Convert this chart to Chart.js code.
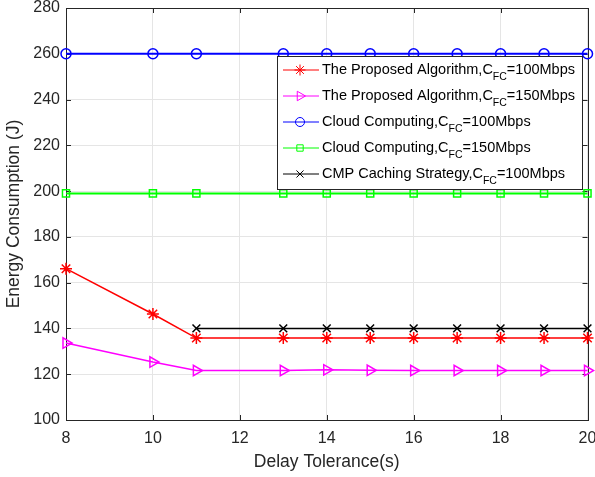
<!DOCTYPE html>
<html>
<head>
<meta charset="utf-8">
<script src="https://cdn.jsdelivr.net/npm/chart.js@4/dist/chart.umd.min.js"></script>
<style>
  html, body { margin: 0; padding: 0; background: #fff; }
  canvas { display: block; }
</style>
</head>
<body>
<canvas id="chart" width="595" height="477"></canvas>
<script>
'use strict'
// delay tolerance (s)
let delays = [8, 10, 11, 13, 14, 15, 16, 17, 18, 19, 20],
    cmpDelays = [11, 13, 14, 15, 16, 17, 18, 19, 20],
    proposed100 = [166.1, 146.3, 135.8, 135.8, 135.8, 135.8, 135.8, 135.8, 135.8, 135.8, 135.8],
    proposed150 = [133.6, 125.3, 121.6, 121.6, 121.9, 121.7, 121.6, 121.6, 121.6, 121.6, 121.6],
    cloud100 = [260, 260, 260, 260, 260, 260, 260, 260, 260, 260, 260],
    cloud150 = [199, 199, 199, 199, 199, 199, 199, 199, 199, 199, 199],
    cmp100 = [140, 140, 140, 140, 140, 140, 140, 140, 140],
    xTicks = [8, 10, 12, 14, 16, 18, 20],
    yTicks = [100, 120, 140, 160, 180, 200, 220, 240, 260, 280],
    // legend text: [before subscript, subscript, after subscript]
    legendNames = [
        ['The Proposed Algorithm,C', 'FC', '=100Mbps'],
        ['The Proposed Algorithm,C', 'FC', '=150Mbps'],
        ['Cloud Computing,C', 'FC', '=100Mbps'],
        ['Cloud Computing,C', 'FC', '=150Mbps'],
        ['CMP Caching Strategy,C', 'FC', '=100Mbps']]

let axisColor = '#262626'
let font = '"Liberation Sans", Arial, sans-serif'

let pts = function (xs, ys) {
    return xs.map((x, i) => ({x: x, y: ys[i]}))
}

let series = [
    {data: pts(delays, proposed100), color: '#ff0000', style: 'star', rot: 0, r: 6, w: 1.5},
    {data: pts(delays, proposed150), color: '#ff00ff', style: 'triangle', rot: 90, r: 6, w: 1.5},
    {data: pts(delays, cloud100), color: '#0000ff', style: 'circle', rot: 0, r: 5, w: 2},
    {data: pts(delays, cloud150), color: '#00ff00', style: 'rect', rot: 0, r: 5, w: 2},
    {data: pts(cmpDelays, cmp100), color: '#000000', style: 'crossRot', rot: 0, r: 5.5, w: 1.5}
]

// frame with inward tick marks, like matlab
let framePlugin = {
    id: 'frame',
    beforeDatasetsDraw(chart) {
        let ctx = chart.ctx, a = chart.chartArea
        let xs = chart.scales.x, ys = chart.scales.y
        ctx.save()
        ctx.strokeStyle = axisColor
        ctx.lineWidth = 1
        ctx.beginPath()
        xTicks.forEach(v => {
            let px = Math.round(xs.getPixelForValue(v)) + 0.5
            ctx.moveTo(px, a.bottom); ctx.lineTo(px, a.bottom - 5)
            ctx.moveTo(px, a.top); ctx.lineTo(px, a.top + 5)
        })
        yTicks.forEach(v => {
            let py = Math.round(ys.getPixelForValue(v)) + 0.5
            ctx.moveTo(a.left, py); ctx.lineTo(a.left + 5, py)
            ctx.moveTo(a.right, py); ctx.lineTo(a.right - 5, py)
        })
        ctx.stroke()
        ctx.strokeRect(Math.round(a.left) + 0.5, Math.round(a.top) + 0.5,
            Math.round(a.right - a.left), Math.round(a.bottom - a.top))
        ctx.restore()
    }
}

// legend with subscripts
let legendPlugin = {
    id: 'subLegend',
    afterDraw(chart) {
        let ctx = chart.ctx
        let bx = 277, by = 56, bw = 305, bh = 133
        ctx.save()
        ctx.fillStyle = '#fff'
        ctx.fillRect(bx, by, bw, bh)
        ctx.strokeStyle = axisColor
        ctx.lineWidth = 1
        ctx.strokeRect(bx + 0.5, by + 0.5, bw, bh)
        legendNames.forEach((name, i) => {
            let s = series[i]
            let cy = 70 + i * 26
            ctx.strokeStyle = s.color
            ctx.lineWidth = 1
            ctx.beginPath()
            ctx.moveTo(283, cy); ctx.lineTo(319, cy)
            ctx.stroke()
            ctx.fillStyle = 'rgba(0,0,0,0)'
            Chart.helpers.drawPoint(ctx, {pointStyle: s.style, rotation: s.rot, radius: s.r - 0.5, borderWidth: 1}, 300, cy)
            ctx.fillStyle = '#000'
            ctx.textBaseline = 'middle'
            ctx.font = '14.5px ' + font
            let x = 322
            ctx.fillText(name[0], x, cy)
            x += ctx.measureText(name[0]).width
            ctx.font = '10.5px ' + font
            ctx.fillText(name[1], x, cy + 7)
            x += ctx.measureText(name[1]).width
            ctx.font = '14.5px ' + font
            ctx.fillText(name[2], x, cy)
        })
        ctx.restore()
    }
}

let data = {
    datasets: series.map((s, i) => ({
        label: legendNames[i].join(''),
        data: s.data,
        borderColor: s.color,
        backgroundColor: 'transparent',
        borderWidth: s.w,
        pointStyle: s.style,
        rotation: s.rot,
        pointRadius: s.r,
        pointBorderColor: s.color,
        pointBorderWidth: 1.5,
        pointBackgroundColor: 'transparent',
        clip: false,
        tension: 0
    }))
}

let config = {
    type: 'line',
    data: data,
    options: {
        responsive: false,
        animation: false,
        layout: {padding: {top: 8, right: 7, left: 0, bottom: 0}},
        plugins: {legend: {display: false}, tooltip: {enabled: false}},
        scales: {
            x: {
                type: 'linear', min: 8, max: 20,
                afterBuildTicks: (sc) => { sc.ticks = xTicks.map(v => ({value: v})) },
                afterFit: (sc) => { sc.height = 57; sc.paddingLeft = 0; sc.paddingRight = 0 },
                grid: {color: '#e5e5e5', drawTicks: false},
                border: {display: false},
                ticks: {color: axisColor, font: {family: font, size: 16}, padding: 9, maxRotation: 0},
                title: {display: true, text: 'Delay Tolerance(s)', color: axisColor, font: {family: font, size: 17.5}, padding: {top: 1}}
            },
            y: {
                min: 100, max: 280,
                afterBuildTicks: (sc) => { sc.ticks = yTicks.map(v => ({value: v})) },
                afterFit: (sc) => { sc.width = 66; sc.paddingTop = 0; sc.paddingBottom = 0 },
                grid: {color: '#e5e5e5', drawTicks: false},
                border: {display: false},
                ticks: {color: axisColor, font: {family: font, size: 16}, padding: 6},
                title: {display: true, text: 'Energy Consumption (J)', color: axisColor, font: {family: font, size: 17.5}, padding: {bottom: 2}}
            }
        }
    },
    plugins: [framePlugin, legendPlugin]
}

let myChart = new Chart(document.getElementById('chart'), config)
</script>
</body>
</html>
